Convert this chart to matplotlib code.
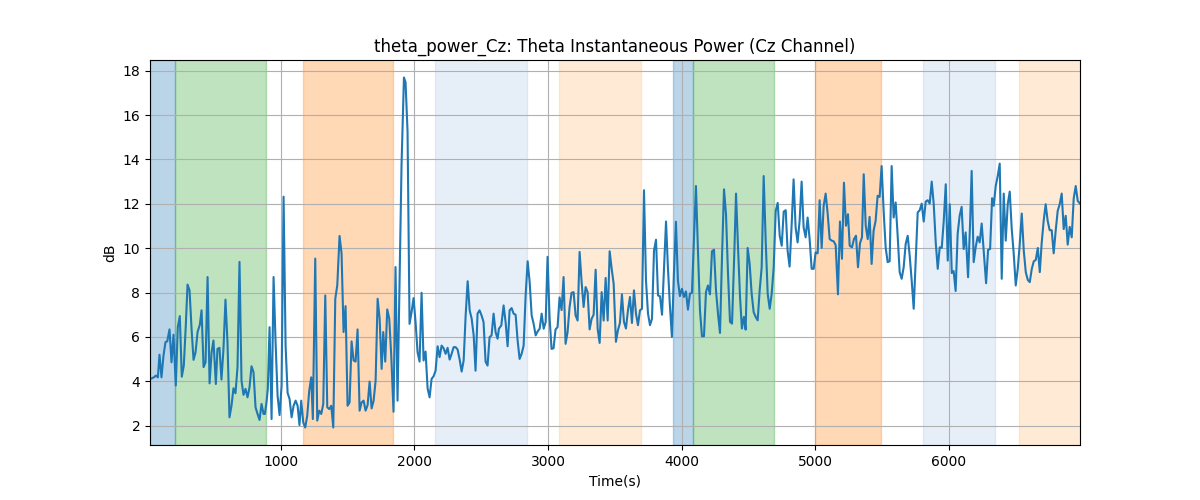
import matplotlib
matplotlib.use("Agg")
import matplotlib.pyplot as plt

# time stamps (s) and theta power (dB)
time_s = [
    20, 49, 64, 79, 91, 106, 121, 136, 149, 166, 181, 196, 213, 228, 243, 258,
    273, 288, 301, 316, 331, 346, 361, 376, 393, 406, 421, 436, 451, 466, 481, 495,
    513, 525, 540, 555, 570, 585, 600, 615, 630, 645, 660, 675, 690, 705, 720, 735,
    750, 765, 780, 795, 810, 825, 840, 855, 870,
    880, 892, 902, 915, 930, 945, 960, 975, 990, 1005, 1020, 1035, 1050, 1065, 1080, 1095,
    1110, 1125, 1139, 1152, 1167, 1182, 1197, 1212, 1227, 1239, 1257, 1272, 1287, 1302, 1317, 1332,
    1347, 1362, 1377, 1392, 1407, 1422, 1439, 1454, 1469, 1484, 1499, 1514, 1529, 1544, 1559, 1574,
    1589, 1604, 1619, 1634, 1649, 1664, 1679, 1694, 1709, 1724, 1739, 1754,
    1766, 1781, 1796, 1811, 1826, 1843, 1858, 1873, 1888, 1903, 1921, 1933, 1948, 1963, 1978, 1993,
    2008, 2023, 2038, 2053, 2068, 2083, 2098, 2113, 2128, 2143, 2158, 2173, 2188, 2203, 2218, 2233,
    2248, 2263, 2278, 2293, 2308, 2323, 2338, 2353, 2368, 2383, 2398, 2413, 2428, 2443, 2457, 2472,
    2487, 2502, 2517, 2532, 2547, 2562, 2577, 2592, 2607, 2622,
    2632, 2650, 2667, 2682, 2697, 2712, 2727, 2742, 2757, 2772, 2787, 2802, 2817, 2832, 2847, 2862,
    2877, 2892, 2907, 2922, 2937, 2952, 2967, 2982, 2996, 3011, 3026, 3041, 3056, 3071, 3086, 3101,
    3116, 3131, 3146, 3161, 3176, 3191, 3206, 3221, 3236, 3251, 3266, 3281, 3296, 3311, 3326, 3341,
    3356, 3371, 3386, 3401, 3416, 3431, 3446, 3461, 3476, 3491,
    3508, 3523, 3538, 3553, 3568, 3583, 3598, 3613, 3628, 3643, 3658, 3673, 3688, 3703, 3718, 3733,
    3748, 3763, 3778, 3793, 3808, 3823, 3838, 3853, 3868, 3883, 3897, 3912, 3927, 3942, 3957, 3972,
    3987, 4002, 4017, 4032, 4047, 4062, 4077, 4092, 4107, 4122, 4137, 4152, 4167, 4182, 4197, 4212,
    4227, 4242, 4257, 4272, 4287, 4302, 4317, 4332, 4347, 4362, 4377,
    4394, 4407, 4421, 4437, 4451, 4466, 4479, 4494, 4509, 4524, 4539, 4554, 4569, 4584, 4599, 4614,
    4629, 4644, 4659, 4674, 4689, 4704, 4719, 4734, 4749, 4764, 4779, 4793, 4808, 4823, 4838, 4853,
    4868, 4883, 4898, 4913, 4928, 4943, 4958, 4973, 4988, 5003, 5018, 5033, 5048, 5063, 5078, 5093,
    5108, 5123, 5138, 5153, 5170, 5185, 5200, 5215, 5230, 5245, 5258,
    5275, 5290, 5305, 5320, 5335, 5350, 5363, 5378, 5393, 5407, 5422, 5437, 5452, 5467, 5482, 5497,
    5512, 5527, 5542, 5557, 5572, 5587, 5602, 5617, 5632, 5647, 5662, 5677, 5692, 5707, 5722, 5737,
    5752, 5767, 5782, 5797, 5812, 5827, 5842, 5857, 5872, 5887, 5902, 5917, 5932, 5947, 5962, 5977,
    5992, 6007, 6022, 6036, 6051, 6066, 6081, 6096, 6111, 6126,
    6136, 6144, 6159, 6171, 6186, 6201, 6216, 6231, 6246, 6261, 6279, 6294, 6309, 6324, 6336, 6351,
    6366, 6381, 6396, 6411, 6426, 6441, 6456, 6471, 6486, 6501, 6516, 6531, 6546, 6561, 6576, 6591,
    6606, 6621, 6636, 6651, 6666, 6681, 6695, 6710, 6725, 6740, 6755, 6770, 6785, 6800, 6815, 6830,
    6845, 6860, 6875, 6890, 6905, 6920, 6935, 6950, 6965, 6982,
]
theta_db = [
    4.10, 4.18, 4.26, 4.18, 5.20, 4.18, 5.16, 5.77, 5.80, 6.34, 4.86, 6.10, 3.81, 6.44, 6.94, 4.21,
    4.71, 6.52, 8.36, 8.10, 6.37, 4.97, 5.31, 6.22, 6.55, 7.20, 4.64, 4.86, 8.70, 3.91, 5.31, 5.84,
    3.88, 5.46, 5.51, 4.08, 5.46, 7.68, 5.77, 2.38, 2.90, 3.69, 3.46, 4.64, 9.38, 4.03, 3.39, 3.66,
    3.28, 3.73, 4.68, 4.41, 2.83, 2.53, 2.26, 2.98, 2.53,
    2.53, 3.05, 3.66, 6.44, 2.30, 8.70, 5.77, 3.36, 2.48, 3.81, 12.32, 5.61, 3.48, 3.20, 2.38, 2.90,
    3.13, 2.90, 2.03, 3.13, 2.15, 1.92, 2.45, 3.58, 4.18, 2.30, 9.53, 2.23, 2.68, 2.53, 2.98, 7.87,
    2.83, 2.75, 2.90, 1.92, 7.72, 8.33, 10.55, 9.76, 6.22, 7.39, 2.90, 3.05, 5.80, 4.94, 4.89, 6.34,
    2.68, 3.05, 3.13, 2.68, 2.93, 3.99, 2.78, 3.13, 4.03, 7.72, 6.82, 4.56,
    6.22, 4.89, 7.24, 6.82, 5.16, 2.63, 9.15, 3.13, 8.48, 13.75, 17.69, 17.48, 15.25, 6.59, 7.12, 7.75,
    6.67, 5.31, 4.89, 7.99, 4.94, 5.34, 3.69, 3.28, 4.11, 4.23, 4.48, 5.58, 5.09, 5.61, 5.49, 5.24,
    5.51, 4.98, 5.24, 5.54, 5.54, 5.43, 4.98, 4.44, 4.94, 6.97, 8.51, 7.20, 6.82, 6.07, 4.48, 7.05,
    7.20, 6.97, 6.67, 4.89, 4.71, 5.99, 6.07, 7.05, 6.22, 5.92,
    6.37, 6.52, 7.42, 6.67, 5.58, 7.20, 7.30, 7.05, 7.00, 5.84, 5.01, 5.24, 5.61, 7.87, 9.41, 8.48,
    6.97, 6.59, 6.07, 6.25, 6.37, 7.05, 6.37, 6.67, 9.61, 6.90, 5.46, 5.49, 6.34, 6.44, 7.78, 7.21,
    8.70, 5.69, 6.22, 7.35, 7.99, 8.02, 6.97, 6.74, 9.83, 8.48, 7.35, 8.25, 8.02, 6.34, 6.82, 7.00,
    9.03, 6.37, 5.73, 8.02, 6.74, 8.66, 6.74, 9.86, 9.08, 8.39,
    5.78, 6.30, 6.63, 7.92, 6.68, 6.38, 7.20, 7.80, 6.63, 8.10, 7.05, 6.53, 7.20, 7.27, 12.61, 8.54,
    7.05, 6.53, 6.82, 9.89, 10.38, 7.87, 7.83, 7.00, 9.14, 11.20, 9.14, 7.42, 6.00, 8.84, 11.19, 8.54,
    7.84, 8.17, 7.80, 8.05, 7.23, 7.95, 7.99, 10.34, 12.80, 9.89, 7.20, 6.03, 6.03, 8.02, 8.32, 7.92,
    9.86, 9.93, 8.10, 7.05, 6.18, 9.59, 12.65, 11.53, 8.84, 6.68, 6.60,
    9.74, 12.46, 10.19, 7.80, 6.38, 6.90, 6.33, 10.01, 9.29, 7.95, 7.12, 6.90, 6.75, 8.10, 9.14, 13.25,
    10.34, 7.95, 7.27, 7.95, 9.14, 11.68, 12.04, 10.56, 10.11, 11.65, 11.71, 9.89, 9.17, 11.01, 13.10, 10.94,
    10.26, 11.23, 13.00, 10.94, 10.49, 11.38, 10.41, 9.07, 9.07, 9.81, 9.77, 12.16, 10.01, 11.91, 12.46, 11.56,
    10.41, 10.34, 10.31, 10.14, 7.92, 11.20, 9.52, 12.95, 11.01, 11.53, 10.11,
    10.04, 10.41, 10.56, 9.14, 10.22, 10.49, 13.33, 11.01, 10.41, 11.41, 9.29, 10.79, 11.23, 12.36, 12.31, 13.70,
    11.68, 10.04, 9.37, 9.41, 13.70, 11.38, 12.06, 10.56, 8.92, 8.62, 9.14, 10.19, 10.56, 9.67, 8.54, 7.27,
    9.44, 11.61, 11.71, 12.01, 11.20, 12.10, 12.16, 12.01, 13.00, 11.98, 10.26, 9.07, 10.04, 10.01, 11.23, 12.88,
    9.44, 11.98, 8.88, 8.97, 8.07, 10.64, 11.46, 11.86, 9.96, 10.71,
    9.59, 8.69, 11.08, 13.48, 9.37, 10.04, 10.52, 10.26, 11.11, 9.89, 8.42, 9.93, 9.96, 12.25, 11.91, 12.80,
    13.25, 13.81, 8.62, 12.46, 10.34, 11.98, 12.55, 10.86, 9.74, 8.32, 9.07, 10.19, 11.56, 9.89, 8.92, 8.57,
    8.47, 9.07, 9.41, 9.47, 10.01, 8.92, 10.22, 11.23, 11.98, 11.23, 10.81, 10.81, 9.77, 10.79, 11.68, 11.98,
    12.46, 10.86, 11.46, 10.16, 10.96, 10.49, 12.25, 12.80, 12.13, 12.01,
]

# shaded intervals (start, end) and their colours
span_starts = [20, 204, 1167, 2155, 3081, 3937, 4087, 5000, 5809, 6528]
span_ends = [204, 885, 1838, 2839, 3695, 4087, 4689, 5490, 6344, 6982]
span_colors = ["C0", "C2", "C1", "#aec7e8", "#ffbb78",
               "C0", "C2", "C1", "#aec7e8", "#ffbb78"]

fig, ax = plt.subplots(figsize=(12, 5))
for start, end, color in zip(span_starts, span_ends, span_colors):
    ax.axvspan(start, end, color=color, alpha=0.3)

ax.plot(time_s, theta_db, color="C0", linewidth=1.5)
ax.set_xlim(time_s[0], time_s[-1])
ax.set_title("theta_power_Cz: Theta Instantaneous Power (Cz Channel)")
ax.set_xlabel("Time(s)")
ax.set_ylabel("dB")
ax.grid(True)

fig.savefig("out.png", dpi=100)
plt.close(fig)
